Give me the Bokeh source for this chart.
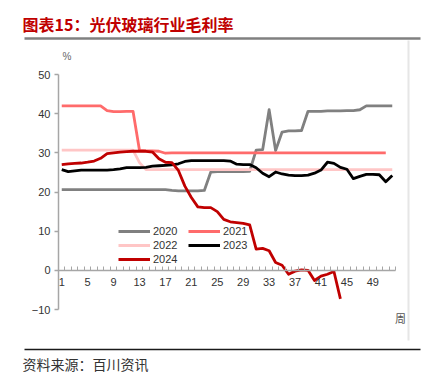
from bokeh.plotting import figure
from bokeh.models import Range1d, LinearAxis, FixedTicker, Legend, LegendItem, Label, BoxAnnotation, Title
from bokeh.embed import file_html
from bokeh.resources import INLINE

weeks = list(range(1, 53))
x_tick_weeks = [1, 5, 9, 13, 17, 21, 25, 29, 33, 37, 41, 45, 49]
y_ticks = [-10, 0, 10, 20, 30, 40, 50]

y2020 = [20.6, 20.6, 20.6, 20.6, 20.6, 20.6, 20.6, 20.6, 20.6, 20.6, 20.6, 20.6, 20.6, 20.6, 20.6, 20.6, 20.6,
         20.4, 20.3, 20.3, 20.3, 20.3, 20.4,
         25.1, 25.2, 25.2, 25.2, 25.2, 25.2, 25.3,
         30.7, 30.8, 41.0, 30.6, 35.3, 35.6, 35.6, 35.7,
         40.6, 40.6, 40.6, 40.7, 40.7, 40.7, 40.8, 40.8,
         41.0, 42.0, 42.0, 42.0, 42.0, 42.0]
y2021 = [42.0, 42.0, 42.0, 42.0, 42.0, 42.0, 42.0,
         40.8, 40.5, 40.5, 40.6, 40.6,
         30.6, 30.5, 30.5, 30.4, 29.9,
         30.0, 30.0, 30.0, 30.0, 30.0, 30.0, 30.0, 30.0, 30.0, 30.0, 30.0, 30.0, 30.0, 30.0, 30.0, 30.0, 30.0,
         30.0, 30.0, 30.0, 30.0, 30.0, 30.0, 30.0, 30.0, 30.0, 30.0, 30.0, 30.0, 30.0, 30.0, 30.0, 30.0, 30.0]
y2022 = [30.7, 30.7, 30.7, 30.7, 30.7, 30.7, 30.7, 30.7, 30.7, 30.7, 30.7, 30.7,
         27.5,
         25.7, 25.7, 25.7, 25.7, 25.7, 25.7, 25.7, 25.7, 25.7, 25.7, 25.7, 25.7, 25.7, 25.7, 25.7, 25.7, 25.7,
         25.7, 25.7, 25.7, 25.7, 25.7, 25.7, 25.7, 25.7, 25.7, 25.7, 25.7, 25.7, 25.7, 25.7, 25.7, 25.7, 25.7,
         25.7, 25.7, 25.7, 25.7, 25.7]
y2023 = [25.7, 25.2, 25.4, 25.6, 25.6, 25.6, 25.6, 25.6, 25.7, 25.9, 26.2, 26.2, 26.2, 26.3, 26.6, 26.7,
         26.8, 26.9, 27.2, 27.8, 28.0, 28.0, 28.0, 28.0, 28.0, 28.0, 27.9, 27.1, 27.0, 27.0, 26.2, 24.8,
         23.9, 25.1, 24.6, 24.3, 24.2, 24.2, 24.3, 24.8, 25.6, 27.6, 27.3, 26.3, 25.8, 23.4, 24.0, 24.5,
         24.5, 24.4, 22.6, 24.2]
weeks2024 = list(range(1, 45))
y2024 = [27.0, 27.2, 27.3, 27.4, 27.6, 27.9, 28.6, 29.8, 30.0, 30.2, 30.3, 30.4, 30.4, 30.4, 30.2,
         28.5, 27.6, 27.5, 25.5, 21.5, 18.6, 16.2, 16.0, 16.0, 15.0, 13.0, 12.4, 12.2, 12.0, 11.6,
         5.4, 5.6, 5.0, 2.0, 1.3, -1.0, -0.2, 0.1, 0.0, -2.6, -1.5, -1.0, -0.3, -7.3]

series = [("2020", weeks, y2020, "#808080"),
          ("2021", weeks, y2021, "#ff6b6b"),
          ("2022", weeks, y2022, "#ffc6c6"),
          ("2023", weeks, y2023, "#000000"),
          ("2024", weeks2024, y2024, "#c00000")]

title_text = "图表15：光伏玻璃行业毛利率"
source_text = "资料来源：百川资讯"
unit_text = "%"
x_unit_text = "周"

# ---- pixel layout (screen px of the 425x385 canvas) ----
W, H = 425, 385
FL, FR, FT, FB = 24, 425, 38, 349          # frame edges
AX0, AX1 = 58, 395                          # x of week 0.5 / 52.5
AY50, AYM10 = 74, 309                       # y of 50 / -10
pxw = (AX1 - AX0) / 52.0
pxy = (AYM10 - AY50) / 60.0

def xd(ax):
    return 0.5 + (ax - AX0) / pxw

def yd(ay):
    return 50 - (ay - AY50) / pxy

p = figure(width=W, height=H, output_backend="svg", toolbar_location=None,
           x_range=Range1d(xd(FL), xd(FR)), y_range=Range1d(yd(FB), yd(FT)),
           x_axis_location=None, title=None,
           min_border_left=FL, min_border_right=W - FR, min_border_top=FT, min_border_bottom=H - FB)
p.outline_line_color = None
p.xgrid.visible = False
p.ygrid.visible = False
p.background_fill_color = "white"
p.border_fill_color = "white"

AX = "#a6a6a6"
ya = p.yaxis[0]
ya.fixed_location = 0.5
ya.bounds = (-10, 50)
ya.ticker = FixedTicker(ticks=y_ticks)
ya.axis_line_color = AX
ya.axis_line_width = 1.5
ya.major_tick_line_color = AX
ya.major_tick_line_width = 1.5
ya.major_tick_out = 4
ya.major_tick_in = 0
ya.minor_tick_line_color = None
ya.major_label_standoff = 4
ya.major_label_text_font = "Liberation Sans"
ya.major_label_text_font_size = "11px"
ya.major_label_text_color = "#333333"

minor = [w - 0.5 for w in weeks] + [52.5]
xa = LinearAxis(fixed_location=0, bounds=(0.5, 52.5),
                ticker=FixedTicker(ticks=x_tick_weeks, minor_ticks=minor))
xa.axis_line_color = AX
xa.axis_line_width = 1.5
xa.major_tick_line_color = None
xa.major_tick_in = 0
xa.major_tick_out = 0
xa.minor_tick_line_color = AX
xa.minor_tick_line_width = 1
xa.minor_tick_in = 4
xa.minor_tick_out = 0
xa.major_label_standoff = 8
xa.major_label_text_font = "Liberation Sans"
xa.major_label_text_font_size = "11px"
xa.major_label_text_color = "#333333"
p.add_layout(xa, "below")

# black rule above the source line
rule_b = LinearAxis(ticker=FixedTicker(ticks=[]), bounds=(xd(20), xd(420)),
                    axis_line_color="#1a1a1a", axis_line_width=1.5,
                    major_tick_line_color=None, minor_tick_line_color=None,
                    major_label_text_font_size="0px")
p.add_layout(rule_b, "below")
p.add_layout(Title(text=source_text, align="left", offset=-2, standoff=5,
                   text_font="Noto Sans CJK SC", text_font_size="14px", text_font_style="normal",
                   text_color="#333333"), "below")

# gray rule under the title
rule_t = LinearAxis(ticker=FixedTicker(ticks=[]), bounds=(xd(20), xd(420)),
                    axis_line_color="#808080", axis_line_width=2.5,
                    major_tick_line_color=None, minor_tick_line_color=None,
                    major_label_text_font_size="0px")
p.add_layout(rule_t, "above")
p.add_layout(Title(text=title_text, align="left", offset=-2, standoff=5,
                   text_font="Noto Sans CJK SC", text_font_size="16px", text_font_style="bold",
                   text_color="#c00000"), "above")

items = []
for name, xs, ys, col in series:
    r = p.line(xs, ys, line_color=col, line_width=2.8, line_join="round")
    items.append(LegendItem(label=name, renderers=[r]))

legend = Legend(items=items, orientation="horizontal", ncols=2, location=(118 - FL, FB - 266),
                glyph_width=32, glyph_height=14, label_height=14, label_width=35,
                label_standoff=3, spacing=0, padding=0, margin=0,
                background_fill_alpha=0, border_line_color=None,
                label_text_font="Liberation Sans", label_text_font_size="11px",
                label_text_color="#333333")
p.add_layout(legend)

p.add_layout(Label(x=xd(62), y=yd(56), text=unit_text, text_font="Liberation Sans",
                   text_font_size="10px", text_color="#666666",
                   text_baseline="middle", text_align="left"))
p.add_layout(Label(x=xd(400), y=yd(317), text=x_unit_text, text_font="Noto Sans CJK SC",
                   text_font_size="11px", text_color="#555555",
                   text_baseline="middle", text_align="center"))
p.add_layout(BoxAnnotation(left=xd(407), right=xd(409), top=yd(40), bottom=yd(340),
                           fill_color="#e6e6e6", fill_alpha=1, line_color=None))

open("out.html", "w").write(file_html(p, INLINE))
